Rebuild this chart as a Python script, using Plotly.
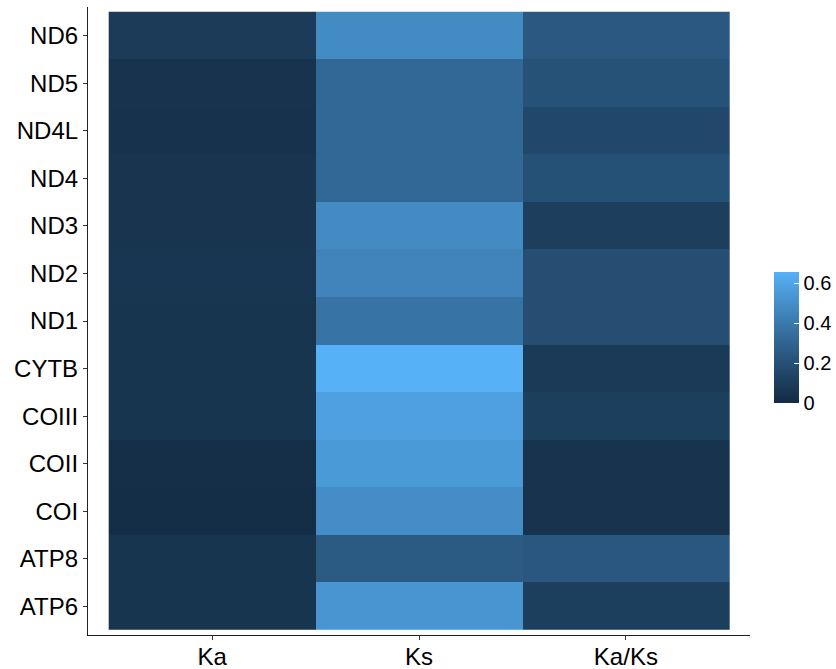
import numpy as np
import plotly.graph_objects as go

# Genes listed bottom-to-top, and the three rate measures
genes = ["ATP6", "ATP8", "COI", "COII", "COIII", "CYTB",
         "ND1", "ND2", "ND3", "ND4", "ND4L", "ND5", "ND6"]
measures = ["Ka", "Ks", "Ka/Ks"]

ka = [0.055, 0.055, 0.015, 0.020, 0.055, 0.055,
      0.055, 0.060, 0.050, 0.050, 0.040, 0.045, 0.090]
ks = [0.530, 0.250, 0.490, 0.550, 0.580, 0.655,
      0.370, 0.450, 0.480, 0.320, 0.320, 0.320, 0.480]
ka_ks = [0.110, 0.235, 0.045, 0.045, 0.110, 0.080,
         0.185, 0.185, 0.105, 0.200, 0.155, 0.210, 0.240]

colorbar_ticks = [0, 0.2, 0.4, 0.6]
colorbar_labels = ["0", "0.2", "0.4", "0.6"]

z = np.array([ka, ks, ka_ks]).T


# Sequential gradient interpolated in CIE Lab between two blues
def _srgb_to_lab(hexc):
    rgb = np.array([int(hexc[i:i + 2], 16) for i in (1, 3, 5)]) / 255.0
    lin = np.where(rgb <= 0.04045, rgb / 12.92, ((rgb + 0.055) / 1.055) ** 2.4)
    m = np.array([[0.4124, 0.3576, 0.1805],
                  [0.2126, 0.7152, 0.0722],
                  [0.0193, 0.1192, 0.9505]])
    xyz = m @ lin / np.array([0.95047, 1.0, 1.08883])
    f = np.where(xyz > 0.008856, np.cbrt(xyz), 7.787 * xyz + 16 / 116)
    return np.array([116 * f[1] - 16, 500 * (f[0] - f[1]), 200 * (f[1] - f[2])])


def _lab_to_rgb(lab):
    fy = (lab[0] + 16) / 116
    fx = fy + lab[1] / 500
    fz = fy - lab[2] / 200
    f = np.array([fx, fy, fz])
    xyz = np.where(f ** 3 > 0.008856, f ** 3, (f - 16 / 116) / 7.787)
    xyz = xyz * np.array([0.95047, 1.0, 1.08883])
    minv = np.array([[3.2406, -1.5372, -0.4986],
                     [-0.9689, 1.8758, 0.0415],
                     [0.0557, -0.2040, 1.0570]])
    lin = minv @ xyz
    rgb = np.where(lin <= 0.0031308, 12.92 * lin, 1.055 * np.clip(lin, 0, None) ** (1 / 2.4) - 0.055)
    rgb = np.clip(np.round(rgb * 255), 0, 255).astype(int)
    return "rgb({},{},{})".format(*rgb)


low, high = _srgb_to_lab("#132B43"), _srgb_to_lab("#56B1F7")
stops = np.linspace(0, 1, 21)
colorscale = [[float(s), _lab_to_rgb(low + (high - low) * s)] for s in stops]

zmin, zmax = 0.0, float(z.max())

font_family = "Liberation Sans, Arial, sans-serif"

fig = go.Figure(go.Heatmap(
    z=z,
    x=measures,
    y=genes,
    colorscale=colorscale,
    zmin=zmin,
    zmax=zmax,
    xgap=0,
    ygap=0,
    colorbar=dict(
        x=1.0356,
        xanchor="left",
        xpad=0,
        y=0.473,
        yanchor="middle",
        ypad=0,
        len=131,
        lenmode="pixels",
        thickness=25,
        thicknessmode="pixels",
        outlinewidth=0,
        tickmode="array",
        tickvals=colorbar_ticks,
        ticktext=colorbar_labels,
        ticks="inside",
        ticklen=5,
        tickcolor="white",
        tickwidth=1,
        tickfont=dict(family=font_family, size=20, color="black"),
    ),
    hovertemplate="%{y} %{x}: %{z}<extra></extra>",
))

fig.update_layout(
    width=836,
    height=669,
    margin=dict(l=88, r=86, t=7, b=34, autoexpand=False),
    paper_bgcolor="white",
    plot_bgcolor="white",
    font=dict(family=font_family, color="black"),
)

axis_style = dict(
    type="category",
    automargin=False,
    showline=True,
    linecolor="#222222",
    linewidth=1.2,
    mirror=False,
    ticks="outside",
    ticklen=4,
    tickcolor="#333333",
    tickwidth=1,
    showgrid=False,
    zeroline=False,
    tickfont=dict(family=font_family, size=24, color="black"),
)

fig.update_xaxes(range=[-0.6, 2.6], ticklabelstandoff=-4, **axis_style)
fig.update_yaxes(range=[-0.6, 12.6], ticklabelstandoff=0, **axis_style)

fig.write_html("out.html")
